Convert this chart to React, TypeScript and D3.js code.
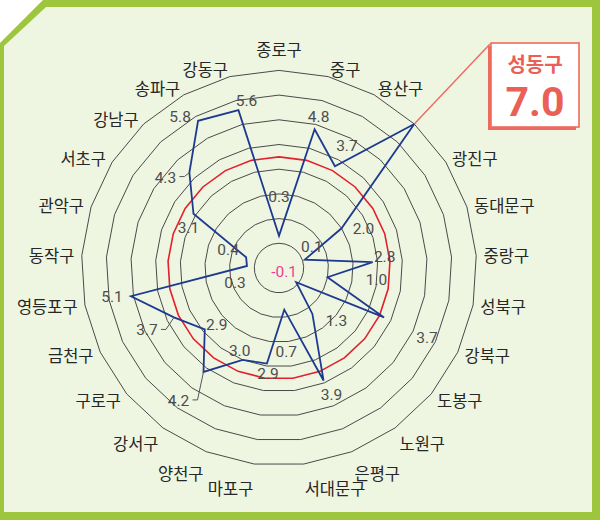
import React from "react";
import * as d3 from "d3";

// 25 Seoul districts, clockwise from the top
const districts = [
  "종로구", "중구", "용산구", "성동구", "광진구", "동대문구", "중랑구", "성북구",
  "강북구", "도봉구", "노원구", "은평구", "서대문구", "마포구", "양천구", "강서구",
  "구로구", "금천구", "영등포구", "동작구", "관악구", "서초구", "강남구", "송파구", "강동구",
];
const values = [
  0.3, 4.8, 3.7, 7.0, 2.0, 0.1, 2.8, 1.0,
  3.7, -0.1, 1.3, 3.9, 0.7, 2.9, 3.0, 4.2,
  2.9, 3.7, 5.1, 0.3, 0.4, 3.1, 4.3, 5.8, 5.6,
];
const gridLevels = [0, 1, 2, 3, 4, 5, 6, 7];
const referenceLevel = 3.5;
const highlightName = "성동구";
const minimumName = "도봉구";
const leaderNames = ["강서구", "금천구", "강남구"];

// hand placement of the value labels, relative to each point
const labelNudge: [number, number][] = [
  [0, -39], [4, -12], [12, -20], [0, 0], [22, 1], [7, -13], [12, -5], [49, 3],
  [43, 21], [-12, -10], [24, 7], [8, 14], [2, 42], [1, 10], [-3, -9], [-25, 29],
  [12, -4], [-27, 13], [-19, 1], [-12, 17], [-18, -7], [-5, 14], [-24, 5], [-18, -4], [8, -9],
];

const W = 600;
const H = 520;
const cx = 279;
const cy = 268;
const R = 197.6;

const KR = "'Noto Sans CJK KR', 'Noto Sans', sans-serif";
const NUM = "Roboto, 'Noto Sans', sans-serif";

export default function App() {
  const r = d3.scaleLinear().domain([-1, 7]).range([0, R]);
  const angle = (i: number) => (i * 2 * Math.PI) / districts.length;
  const pt = (i: number, v: number): [number, number] => [
    r(v) * Math.sin(angle(i)),
    -r(v) * Math.cos(angle(i)),
  ];

  const ring = (level: number) =>
    d3
      .lineRadial<string>()
      .angle((_, i) => angle(i))
      .radius(() => r(level))
      .curve(d3.curveLinearClosed)(districts) ?? "";

  const seriesPath =
    d3
      .lineRadial<number>()
      .angle((_, i) => angle(i))
      .radius((d) => r(d))
      .curve(d3.curveLinearClosed)(values) ?? "";

  const hi = districts.indexOf(highlightName);
  const [hx, hy] = pt(hi, values[hi]);
  const box = { x: 491, y: 43, w: 88, h: 84 };

  // category labels around the outer ring
  const catLabels = districts.map((name, i) => {
    if (name === highlightName) return null;
    const a = angle(i);
    const s = Math.sin(a);
    const c = Math.cos(a);
    const lr = 205;
    const x = lr * s;
    let y = -lr * c;
    const anchor = s > 0.05 ? "start" : s < -0.05 ? "end" : "middle";
    if (c < 0) y += 17 * Math.max(0, (-c - 0.6) / 0.4);
    if (anchor === "middle") y -= 14;
    return (
      <text
        key={name}
        x={x}
        y={y}
        textAnchor={anchor}
        dominantBaseline="central"
        fontFamily={KR}
        fontSize={16.5}
        fill="#262626"
      >
        {name}
      </text>
    );
  });

  const valueLabels = values.map((v, i) => {
    const name = districts[i];
    if (name === highlightName) return null;
    const [px, py] = pt(i, v);
    const [dx, dy] = labelNudge[i];
    const lx = px + dx;
    const ly = py + dy;
    const isMin = name === minimumName;
    const leader = leaderNames.includes(name);
    return (
      <g key={name}>
        {leader && (
          <polyline
            points={`${lx + 14},${ly - 1} ${lx + 19},${ly - 1} ${px},${py}`}
            fill="none"
            stroke="#555"
            strokeWidth={1}
          />
        )}
        <text
          x={lx}
          y={ly}
          textAnchor="middle"
          dominantBaseline="central"
          fontFamily={NUM}
          fontSize={15.5}
          fill={isMin ? "#ee3d96" : "#4d4d4d"}
        >
          {v.toFixed(1)}
        </text>
      </g>
    );
  });

  return (
    <svg
      width={W}
      height={H}
      style={{ position: "absolute", left: 0, top: 0 }}
    >
      <rect width={W} height={H} fill="#ffffff" />
      {/* frame with cut corner */}
      <polygon points={`0,43 43,0 ${W},0 ${W},${H} 0,${H}`} fill="#9dc63c" />
      <polygon
        points={`4,46 46,7 592,7 592,512 4,512`}
        fill="#eef5e1"
      />

      <g transform={`translate(${cx},${cy})`}>
        {gridLevels.map((lv) => (
          <path key={lv} d={ring(lv)} fill="none" stroke="#4a4a4a" strokeWidth={1} />
        ))}
        <path d={ring(referenceLevel)} fill="none" stroke="#e3202b" strokeWidth={1.6} />

        <path d={seriesPath} fill="none" stroke="#1e3a8f" strokeWidth={1.8} strokeLinejoin="miter" />

        {/* callout leader */}
        <line
          x1={hx}
          y1={hy}
          x2={box.x - 1 - cx}
          y2={box.y + 1 - cy}
          stroke="#ef6a5e"
          strokeWidth={1.4}
        />

        {catLabels}
        {valueLabels}
      </g>

      {/* highlighted district callout */}
      <rect x={box.x - 3} y={box.y + 3} width={box.w} height={box.h} fill="#ef6a5e" />
      <rect
        x={box.x}
        y={box.y}
        width={box.w}
        height={box.h}
        fill="#ffffff"
        stroke="#ef6a5e"
        strokeWidth={1.6}
      />
      <text
        x={box.x + box.w / 2}
        y={box.y + 20}
        textAnchor="middle"
        dominantBaseline="central"
        fontFamily={KR}
        fontWeight={700}
        fontSize={20}
        fill="#ea5f56"
      >
        {highlightName}
      </text>
      <text
        x={box.x + box.w / 2}
        y={box.y + 73}
        textAnchor="middle"
        fontFamily={NUM}
        fontWeight={700}
        fontSize={41}
        fill="#ea5f56"
      >
        {values[hi].toFixed(1)}
      </text>
    </svg>
  );
}
